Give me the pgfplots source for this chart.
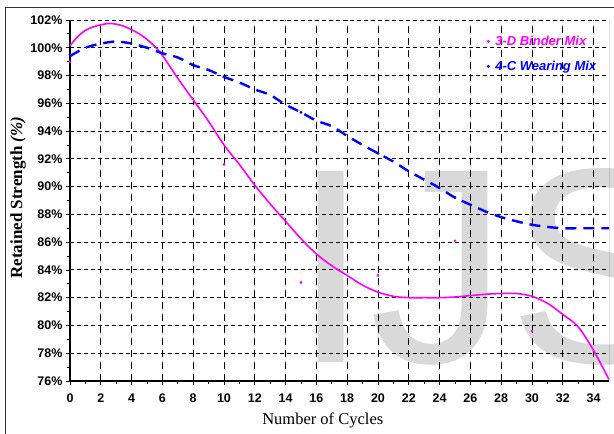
\documentclass[border=0pt]{standalone}
\usepackage{pgfplots}
\pgfplotsset{compat=1.18}
\usepackage{fontspec}
\setmainfont{Liberation Serif}
\newfontfamily\sansfont{Liberation Sans}
\definecolor{pinkc}{RGB}{255,0,255}
\definecolor{bluec}{RGB}{0,0,255}
\begin{document}
\begin{tikzpicture}[x=1pt,y=1pt]
\useasboundingbox (0,0) rectangle (614,434);
% watermark
\node[anchor=base west, inner sep=0, text depth=0pt, text=black!15, font=\sansfont\fontsize{278pt}{300pt}\selectfont] at (292,71) {IJS};
% outer frame
\draw[line width=1pt, black!80] (5,0) -- (5,426) -- (614,426);
\begin{axis}[
  at={(70pt,53pt)}, anchor=south west,
  scale only axis, width=539pt, height=361pt,
  xmin=0, xmax=35, ymin=76, ymax=102,
  axis x line*=bottom, axis y line*=left,
  axis line style={black, line width=1.2pt},
  xtick={0,2,...,34},
  xticklabels={0,2,4,6,8,10,12,14,16,18,20,22,24,26,28,30,32,34},
  ytick={76,78,...,102},
  yticklabels={76\%,78\%,80\%,82\%,84\%,86\%,88\%,90\%,92\%,94\%,96\%,98\%,100\%,102\%},
  minor x tick num=1, minor y tick num=1,
  tick align=outside, major tick length=4pt, minor tick length=3pt,
  tick style={black, line width=0.8pt},
  grid=major,
  x grid style={black, dash pattern=on 7pt off 5pt, line width=0.9pt},
  y grid style={black, dash pattern=on 4pt off 3pt, line width=0.9pt},
  ticklabel style={font=\sansfont\bfseries\fontsize{12.5pt}{14pt}\selectfont},
  x tick label style={yshift=-5pt},
  xlabel={Number of Cycles},
  xlabel style={font=\fontsize{16.5pt}{18pt}\selectfont, at={(axis description cs:0.469,0)}, anchor=center, yshift=-39pt},
  ylabel={\textbf{Retained Strength} \textit{(\%)}},
  ylabel style={font=\bfseries\fontsize{17pt}{19pt}\selectfont, at={(axis description cs:0,0.508)}, anchor=center, yshift=52pt},
  legend style={draw=none, fill=none, at={(axis description cs:0.772,0.962)}, anchor=north west, inner sep=0pt,
    font=\sansfont\bfseries\itshape\fontsize{13pt}{15pt}\selectfont, row sep=10pt},
  legend cell align=left,
  legend image code/.code={\fill (2pt,0pt) circle (1.3pt); \path[draw=none, fill=none] (0pt,0pt) -- (7pt,0pt);},
]
% trend curves
\addplot[pinkc, line width=1.6pt, smooth, forget plot] coordinates {
(0,100.15) (0.5,100.8) (1,101.25) (1.5,101.5) (2,101.65) (2.5,101.75) (3,101.7) (3.5,101.55)
(4,101.3) (4.5,101.0) (5,100.6) (5.5,100.1) (6,99.45) (7,97.8) (8,96.25) (9,94.7) (10,93.0)
(11,91.6) (12,90.1) (13,88.75) (14,87.5) (15,86.25) (16,85.15) (17,84.3) (18,83.6) (19,82.9)
(20,82.4) (21,82.1) (22,82.0) (23,82.0) (24,82.0) (25,82.05) (26,82.15) (27,82.25) (28,82.3)
(29,82.3) (30,82.1) (31,81.6) (32,80.8) (33,79.9) (34,78.2) (35,76.1)
};
\addplot[bluec, line width=2.4pt, smooth, dash pattern=on 11pt off 7pt, forget plot] coordinates {
(0,99.4) (1,100.0) (2,100.3) (3,100.45) (4,100.3) (5,100.0) (6,99.6) (7,99.3) (8,98.75)
(9,98.4) (10,97.9) (11,97.5) (12,97.0) (13,96.6) (14,95.9) (15,95.35) (16,94.75) (17,94.35)
(18,93.65) (19,93.0) (20,92.4) (21,91.8) (22,91.1) (23,90.5) (24,89.9) (25,89.2) (26,88.7)
(27,88.2) (28,87.8) (29,87.5) (30,87.25) (31,87.1) (32,87.0) (33,87.0) (34,87.0) (35,87.0)
};
% measured points
\addplot[pinkc, only marks, mark=*, mark size=1.2pt] coordinates {
(0,99.0) (10,91.6) (15,83.1) (20,83.6) (25,86.1) (30,79.6)
};
\addlegendentry{\textcolor{pinkc}{3-D Binder Mix}}
\addplot[bluec, only marks, mark=*, mark size=1.2pt] coordinates {
(0,99.5) (5,100.0) (10,97.9) (15,95.35) (20,92.4) (25,89.2) (30,87.25)
};
\addlegendentry{\textcolor{bluec}{4-C Wearing Mix}}
\draw[black, line width=0.8pt] (axis cs:35,76) -- (axis cs:35,102);
\end{axis}
\end{tikzpicture}
\end{document}
